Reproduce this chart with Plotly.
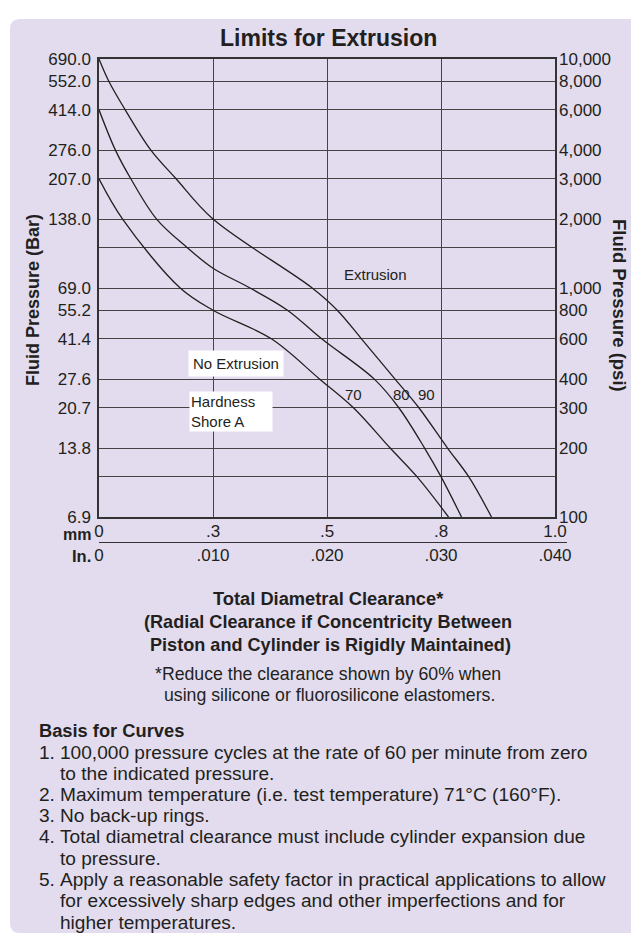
import numpy as np
import plotly.graph_objects as go

# ---- axis ticks -------------------------------------------------------------
clearance_in_ticks = [0.0, 0.010, 0.020, 0.030, 0.040]
clearance_mm_labels = ["0", ".3", ".5", ".8", "1.0"]
clearance_in_labels = ["0", ".010", ".020", ".030", ".040"]

pressure_psi_ticks = [100, 200, 300, 400, 600, 800, 1000, 2000, 3000, 4000, 6000, 8000, 10000]
pressure_psi_labels = ["100", "200", "300", "400", "600", "800", "1,000",
                       "2,000", "3,000", "4,000", "6,000", "8,000", "10,000"]
pressure_bar_labels = ["6.9", "13.8", "20.7", "27.6", "41.4", "55.2", "69.0",
                       "138.0", "207.0", "276.0", "414.0", "552.0", "690.0"]
extra_grid_psi = [150, 1500]

# ---- extrusion limit curves (clearance in inches, pressure in psi) ----------
shore_hardness = [70, 80, 90]
clearance_70 = [0.0, 0.00207, 0.00712, 0.01000, 0.01512, 0.01936,
                0.02232, 0.02554, 0.02789, 0.03066]
pressure_70 = [3000, 2000, 1000, 800, 600, 400, 300, 200, 150, 100]
clearance_80 = [0.0, 0.00144, 0.00279, 0.00505, 0.00775, 0.01000, 0.01325,
                0.01653, 0.01953, 0.02415, 0.02630, 0.02856, 0.03000, 0.03180]
pressure_80 = [6000, 4000, 3000, 2000, 1500, 1220, 1000, 800, 600, 400, 300,
               200, 150, 100]
clearance_90 = [0.0, 0.00086, 0.00230, 0.00455, 0.00676, 0.01000,
                0.01870, 0.02090, 0.02302, 0.02597, 0.02806, 0.03057, 0.03243,
                0.03443]
pressure_90 = [10000, 8000, 6000, 4000, 3000, 2000, 1000, 800, 600, 400,
               300, 200, 150, 100]

hardness_label_clearance = [0.02232, 0.02650, 0.02870]
hardness_label_psi = 342

notes = [
    ("1.", ["100,000 pressure cycles at the rate of 60 per minute from zero",
            "to the indicated pressure."]),
    ("2.", ["Maximum temperature (i.e. test temperature) 71°C (160°F)."]),
    ("3.", ["No back-up rings."]),
    ("4.", ["Total diametral clearance must include cylinder expansion due",
            "to pressure."]),
    ("5.", ["Apply a reasonable safety factor in practical applications to allow",
            "for excessively sharp edges and other imperfections and for",
            "higher temperatures."]),
]

# ---- styling ----------------------------------------------------------------
FONT = "Liberation Sans, Arial, Helvetica, sans-serif"
INK = "#231f20"
GRID = "#444444"
FRAME = "#333333"
PANEL = "#e2dcee"

W_FIG, H_FIG = 631, 938
L, T, W, H = 99, 59, 456, 458


def px_x(px):
    return (px - L) / W


def px_y(py):
    return (T + H - py) / H


fig = go.Figure()

curves = [(clearance_70, pressure_70), (clearance_80, pressure_80),
          (clearance_90, pressure_90)]
for (cx, cy), hard in zip(curves, shore_hardness):
    fig.add_trace(go.Scatter(
        x=cx, y=cy, mode="lines", name=f"{hard} Shore A",
        line=dict(color=INK, width=1.3, shape="spline", smoothing=1.0),
        hoverinfo="skip", showlegend=False))

# carrier for the secondary (inch / psi) axes
fig.add_trace(go.Scatter(
    x=[clearance_in_ticks[0], clearance_in_ticks[-1]],
    y=[pressure_psi_ticks[0], pressure_psi_ticks[-1]],
    xaxis="x2", yaxis="y2", mode="markers", marker=dict(opacity=0),
    hoverinfo="skip", showlegend=False))

tickfont = dict(family=FONT, size=17, color=INK)
log_range = [np.log10(pressure_psi_ticks[0]), np.log10(pressure_psi_ticks[-1])]

fig.update_layout(
    width=W_FIG, height=H_FIG,
    margin=dict(l=L, r=W_FIG - L - W, t=T, b=H_FIG - T - H, pad=0),
    paper_bgcolor="white", plot_bgcolor="white",
    font=dict(family=FONT, color=INK),
    xaxis=dict(range=[clearance_in_ticks[0], clearance_in_ticks[-1]],
               tickmode="array", tickvals=clearance_in_ticks,
               ticktext=clearance_mm_labels, ticks="", tickfont=tickfont,
               showgrid=True, gridcolor=GRID, gridwidth=1.2, zeroline=False,
               showline=True, mirror=True, linecolor=FRAME, linewidth=1.5,
               ticklabelstandoff=-2, fixedrange=True),
    xaxis2=dict(range=[clearance_in_ticks[0], clearance_in_ticks[-1]],
                overlaying="x", anchor="y", side="bottom",
                tickmode="array", tickvals=clearance_in_ticks,
                ticktext=clearance_in_labels, ticks="", tickfont=tickfont,
                showgrid=False, zeroline=False, showline=False,
                ticklabelstandoff=26, fixedrange=True),
    yaxis=dict(type="log", range=log_range, tickmode="array",
               tickvals=pressure_psi_ticks + extra_grid_psi,
               ticktext=pressure_bar_labels + ["" for _ in extra_grid_psi],
               ticks="", tickfont=tickfont, showgrid=True, gridcolor=GRID,
               gridwidth=1.2, zeroline=False, showline=True, mirror=True,
               linecolor=FRAME, linewidth=1.5, ticklabelstandoff=3,
               fixedrange=True),
    yaxis2=dict(type="log", range=log_range, overlaying="y", anchor="x",
                side="right", tickmode="array", tickvals=pressure_psi_ticks,
                ticktext=pressure_psi_labels, ticks="", tickfont=tickfont,
                showgrid=False, zeroline=False, showline=False,
                ticklabelstandoff=3, fixedrange=True),
)

# lavender panel behind everything (left corners rounded)
x0, x1 = px_x(10), px_x(660)
y0, y1 = px_y(933), px_y(19)
rx, ry = 10 / W, 10 / H
panel_path = (f"M {x0 + rx},{y1} L {x1},{y1} L {x1},{y0} L {x0 + rx},{y0} "
              f"Q {x0},{y0} {x0},{y0 + ry} L {x0},{y1 - ry} "
              f"Q {x0},{y1} {x0 + rx},{y1} Z")
fig.add_shape(type="path", path=panel_path, xref="paper", yref="paper",
              fillcolor=PANEL, line=dict(width=0), layer="below")

# rule between the mm and inch rows
fig.add_shape(type="line", xref="paper", yref="paper",
              x0=px_x(99), x1=px_x(567), y0=px_y(542.5), y1=px_y(542.5),
              line=dict(color=FRAME, width=1.2))

ann = []


def text(x, y, s, size, bold=False, xanchor="center", yanchor="middle",
         **kw):
    ann.append(dict(x=x, y=y, xref="paper", yref="paper",
                    text=f"<b>{s}</b>" if bold else s, showarrow=False,
                    xanchor=xanchor, yanchor=yanchor,
                    font=dict(family=FONT, size=size, color=INK), **kw))


text(px_x(328), px_y(38), "Limits for Extrusion", 23, bold=True)
text(px_x(33), px_y(300), "Fluid Pressure (Bar)", 18, bold=True, textangle=-90)
text(px_x(620), px_y(305), "Fluid Pressure (psi)", 18.5, bold=True, textangle=90)
text(px_x(92.5), px_y(534), "mm", 16, bold=True, xanchor="right")
text(px_x(92.5), px_y(555.5), "In.", 16.5, bold=True, xanchor="right")

text(px_x(328), px_y(598), "Total Diametral Clearance*", 18.3, bold=True)
text(px_x(328), px_y(621.5), "(Radial Clearance if Concentricity Between", 18.1, bold=True)
text(px_x(330), px_y(645), "Piston and Cylinder is Rigidly Maintained)", 18.1, bold=True)
text(px_x(328), px_y(674), "*Reduce the clearance shown by 60% when", 17.7)
text(px_x(329), px_y(695), "using silicone or fluorosilicone elastomers.", 17.7)

text(px_x(37), px_y(730), "Basis for Curves", 18.3, bold=True, xanchor="left")
row = 0
for num, lines in notes:
    for i, line in enumerate(lines):
        yy = px_y(752 + 21.25 * row)
        if i == 0:
            text(px_x(37), yy, num, 19.1, xanchor="left")
        text(px_x(57.5), yy, line, 19.1, xanchor="left")
        row += 1

# labels inside the chart, placed in data coordinates
for hx, hard in zip(hardness_label_clearance, shore_hardness):
    ann.append(dict(x=hx, y=np.log10(hardness_label_psi), xref="x", yref="y",
                    text=str(hard), showarrow=False,
                    font=dict(family=FONT, size=15, color=INK)))
ann.append(dict(x=0.02428, y=np.log10(1150), xref="x", yref="y",
                text="Extrusion", showarrow=False,
                font=dict(family=FONT, size=15, color=INK)))
ann.append(dict(x=0.01203, y=np.log10(470), xref="x", yref="y",
                text="No Extrusion", showarrow=False, bgcolor="white",
                borderpad=4, font=dict(family=FONT, size=15, color=INK)))
ann.append(dict(x=0.00789, y=np.log10(288), xref="x", yref="y",
                text="Hardness<br>Shore A", showarrow=False, bgcolor="white",
                xanchor="left", align="left", width=80, borderpad=1,
                font=dict(family=FONT, size=15, color=INK)))

fig.update_layout(annotations=ann)

fig.write_html("out.html")
